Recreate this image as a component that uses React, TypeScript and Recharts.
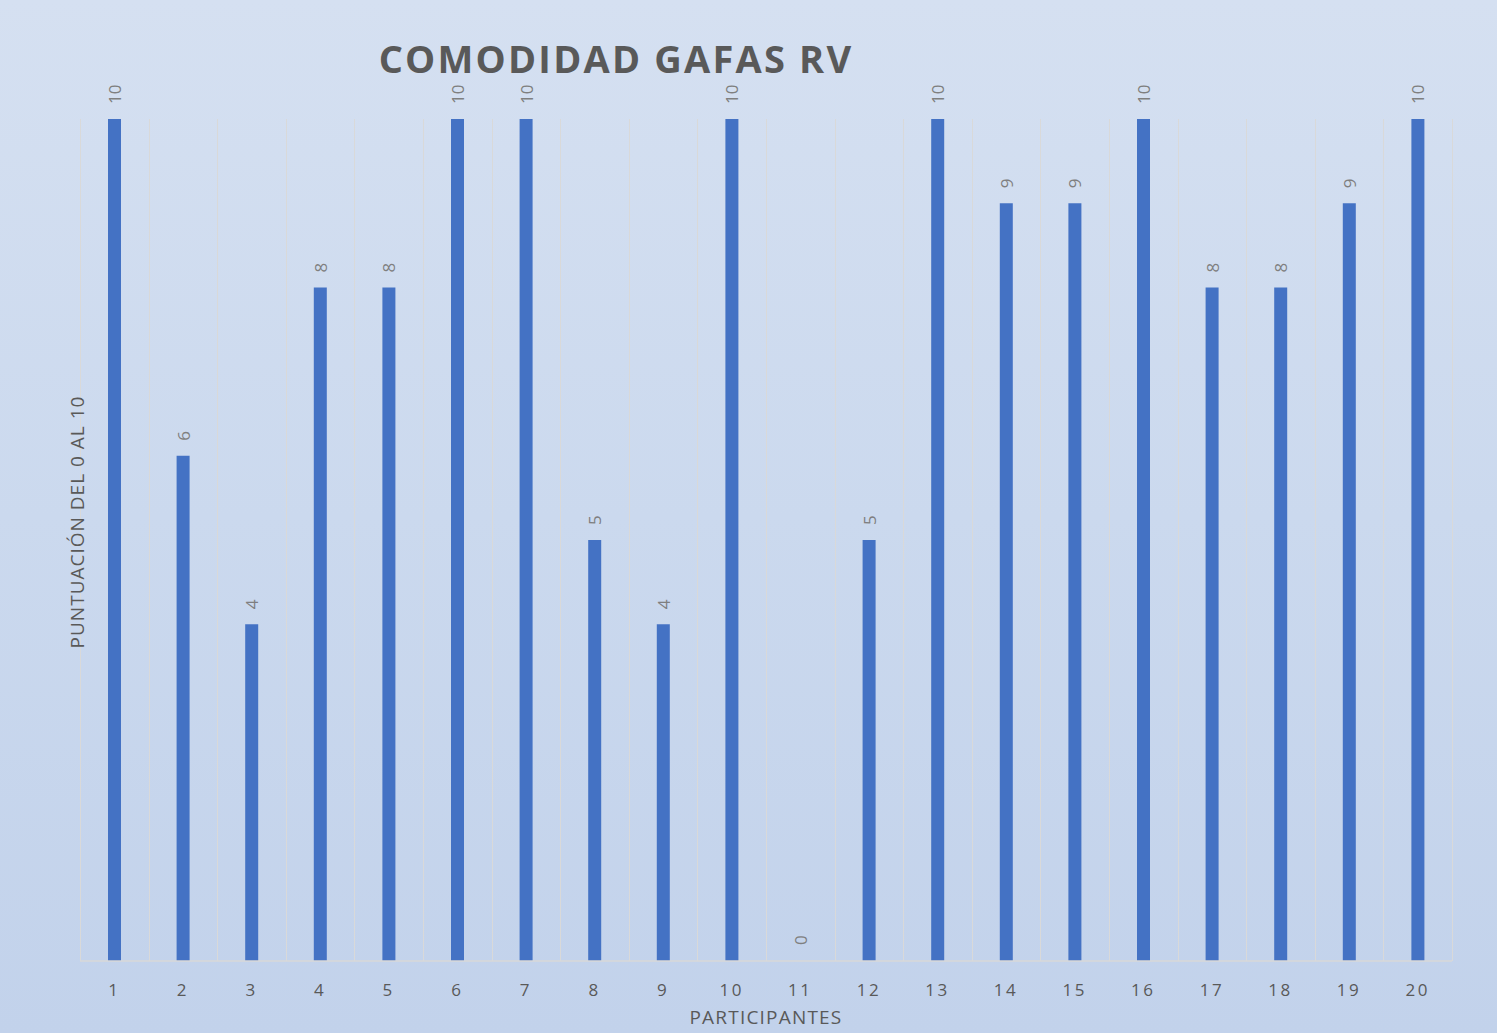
import React from "react";
import { BarChart, Bar, XAxis, YAxis, CartesianGrid, LabelList, Cell } from "recharts";

// ─── Data ─────────────────────────────────────────────────────────────────────

const participantes = ["1", "2", "3", "4", "5", "6", "7", "8", "9", "10", "11", "12", "13", "14", "15", "16", "17", "18", "19", "20"];
const puntuaciones = [10, 6, 4, 8, 8, 10, 10, 5, 4, 10, 0, 5, 10, 9, 9, 10, 8, 8, 9, 10];

const data = participantes.map((p, i) => ({ p, v: puntuaciones[i] }));

const W = 1497;
const H = 1033;
const FONT = "'Open Sans', 'Noto Sans', sans-serif";
const GRAY = "#595959";

// ─── Labels ───────────────────────────────────────────────────────────────────

function ValueLabel(props: any) {
  const { x, y, width, value } = props;
  const cx = x + width / 2;
  const ty = y - 15;
  return (
    <text
      x={cx}
      y={ty}
      transform={`rotate(-90, ${cx}, ${ty})`}
      textAnchor="start"
      dominantBaseline="central"
      fontSize={17}
      fill="#7f7f7f"
      fontFamily={FONT}
    >
      {value}
    </text>
  );
}

// ─── Component ────────────────────────────────────────────────────────────────

export default function App() {
  return (
    <div
      style={{
        position: "absolute",
        left: 0,
        top: 0,
        width: W,
        height: H,
        overflow: "hidden",
        background: "linear-gradient(180deg, #d5e0f1 0%, #cbd9ee 50%, #c2d2eb 100%)",
        fontFamily: FONT,
      }}
    >
      <div
        style={{
          position: "absolute",
          left: 0,
          width: 1232,
          top: 32,
          textAlign: "center",
          fontSize: 38,
          fontWeight: 700,
          letterSpacing: 2.2,
          color: GRAY,
        }}
      >
        COMODIDAD GAFAS RV
      </div>
      {/* título eje Y */}
      <div
        style={{
          position: "absolute",
          left: 77,
          top: 522,
          transform: "translate(-50%, -50%) rotate(-90deg)",
          whiteSpace: "nowrap",
          fontSize: 19,
          letterSpacing: 1,
          color: GRAY,
          zIndex: 2,
        }}
      >
        PUNTUACIÓN DEL 0 AL 10
      </div>
      <BarChart
        width={W}
        height={H}
        data={data}
        margin={{ top: 119, right: 45, left: 80, bottom: 12 }}
        barSize={13}
      >
        <CartesianGrid
          horizontal={false}
          stroke="#d9d9d9"
          verticalCoordinatesGenerator={({ offset }: any) =>
            Array.from({ length: participantes.length + 1 }, (_, i) => Math.round(offset.left + (i * offset.width) / participantes.length) + 0.5)
          }
        />
        <XAxis
          dataKey="p"
          height={60}
          axisLine={{ stroke: "#d9d9d9", strokeWidth: 1.5 }}
          tickLine={false}
          tickSize={0}
          tickMargin={23}
          tick={{ fontSize: 17, fill: GRAY, fontFamily: FONT, letterSpacing: 2.5 }}
          interval={0}
          label={{ value: "PARTICIPANTES", position: "insideBottom", offset: -3, fontSize: 19, fill: GRAY, fontFamily: FONT, letterSpacing: 1.2 }}
        />
        <YAxis domain={[0, 10]} width={0} tick={false} axisLine={false} tickLine={false} />
        <Bar
          dataKey="v"
          fill="#4472c4"
          isAnimationActive={false}
          minPointSize={(value: number) => (value === 0 ? 1 : 0)}
        >
          {data.map((d, i) => (
            <Cell key={i} fill={d.v === 0 ? "none" : "#4472c4"} />
          ))}
          <LabelList dataKey="v" content={<ValueLabel />} />
        </Bar>
      </BarChart>
    </div>
  );
}
